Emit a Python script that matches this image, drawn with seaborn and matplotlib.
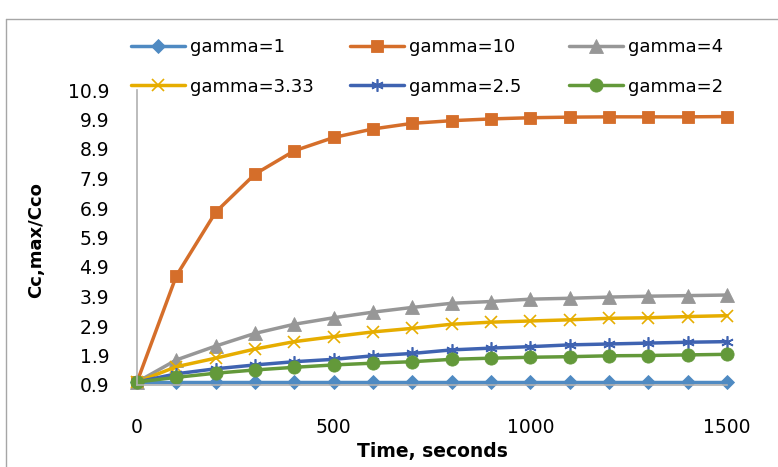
import matplotlib
matplotlib.use("Agg")
import matplotlib.pyplot as plt
import seaborn as sns
import pandas as pd
from matplotlib.lines import Line2D
from matplotlib.patches import Rectangle

time_s = [0, 100, 200, 300, 400, 500, 600, 700, 800, 900, 1000, 1100, 1200, 1300, 1400, 1500]
gamma_1 = [1.0] * 16
gamma_10 = [1.0, 4.60, 6.76, 8.05, 8.84, 9.29, 9.58, 9.77, 9.86, 9.92, 9.96, 9.98, 9.99, 9.99, 9.99, 10.0]
gamma_4 = [1.0, 1.75, 2.22, 2.65, 2.96, 3.18, 3.37, 3.53, 3.67, 3.73, 3.81, 3.84, 3.88, 3.91, 3.93, 3.95]
gamma_333 = [1.0, 1.52, 1.81, 2.12, 2.37, 2.54, 2.70, 2.82, 2.96, 3.03, 3.07, 3.11, 3.16, 3.18, 3.22, 3.25]
gamma_25 = [1.0, 1.28, 1.45, 1.58, 1.69, 1.77, 1.89, 1.97, 2.09, 2.15, 2.20, 2.26, 2.29, 2.32, 2.35, 2.37]
gamma_2 = [1.0, 1.16, 1.30, 1.41, 1.50, 1.58, 1.64, 1.69, 1.77, 1.81, 1.84, 1.86, 1.89, 1.90, 1.92, 1.94]

series_names = ["gamma=1", "gamma=10", "gamma=4", "gamma=3.33", "gamma=2.5", "gamma=2"]
series_values = [gamma_1, gamma_10, gamma_4, gamma_333, gamma_25, gamma_2]
y_ticks = [0.9, 1.9, 2.9, 3.9, 4.9, 5.9, 6.9, 7.9, 8.9, 9.9, 10.9]
x_ticks = [0, 500, 1000, 1500]

colors = {
    "gamma=1": "#4F8AC2",
    "gamma=10": "#D56E2A",
    "gamma=4": "#979797",
    "gamma=3.33": "#E6AD00",
    "gamma=2.5": "#3F63B1",
    "gamma=2": "#63993A",
}
markers = {
    "gamma=1": "D",
    "gamma=10": "s",
    "gamma=4": "^",
    "gamma=3.33": "x",
    "gamma=2.5": (6, 2, 0),
    "gamma=2": "o",
}
msizes = {
    "gamma=1": 7.5,
    "gamma=10": 9,
    "gamma=4": 9.5,
    "gamma=3.33": 9,
    "gamma=2.5": 9,
    "gamma=2": 9.5,
}

rows = []
for name, vals in zip(series_names, series_values):
    for t, v in zip(time_s, vals):
        rows.append({"Time": t, "Value": v, "Series": name})
df = pd.DataFrame(rows)

sns.set_theme(style="white")
plt.rcParams["font.family"] = ["DejaVu Sans"]
plt.rcParams["text.color"] = "#000000"
plt.rcParams["axes.labelcolor"] = "#000000"

fig = plt.figure(figsize=(7.78, 4.67), dpi=100, facecolor="white")
ax = fig.add_axes([137 / 778, 1 - 385 / 467, 590 / 778, 295 / 467])

# white strip at the far right, then the visible outer border (top and left)
fig.add_artist(Rectangle((765 / 778, 0), 20 / 778, 1.0, transform=fig.transFigure,
                         facecolor="white", edgecolor="none", zorder=50))
top_y = 1 - 18.5 / 467
left_x = 5.5 / 778
fig.add_artist(Line2D([left_x, 1.0], [top_y, top_y], transform=fig.transFigure,
                      color="#A6A6A6", linewidth=1.0, zorder=60))
fig.add_artist(Line2D([left_x, left_x], [0.0, top_y], transform=fig.transFigure,
                      color="#A6A6A6", linewidth=1.0, zorder=60))

handles = {}
for name in series_names:
    sub = df[df["Series"] == name]
    sns.lineplot(data=sub, x="Time", y="Value", ax=ax, color=colors[name],
                 linewidth=2.5, marker=markers[name], markersize=msizes[name],
                 markeredgecolor=colors[name],
                 markeredgewidth=1.2 if name in ("gamma=3.33", "gamma=2.5") else 0.6,
                 label=name, legend=False, clip_on=False)
    handles[name] = ax.get_lines()[-1]

ax.set_xlim(0, 1500)
ax.set_ylim(0.9, 10.9)
ax.set_xticks(x_ticks)
ax.set_yticks(y_ticks)
ax.set_yticklabels([f"{v:.1f}" for v in y_ticks])
ax.tick_params(axis="both", length=0, labelsize=13.5, colors="#000000")
ax.tick_params(axis="x", pad=24)
ax.tick_params(axis="y", pad=20)
for s in ["top", "right"]:
    ax.spines[s].set_visible(False)
for s in ["left", "bottom"]:
    ax.spines[s].set_color("#B0B0B0")
    ax.spines[s].set_linewidth(1.2)
ax.grid(False)
ax.set_xlabel("Time, seconds", fontsize=13.5, fontweight="bold", labelpad=3, color="#000000")
ax.set_ylabel("Cc,max/Cco", fontsize=13, fontweight="bold", color="#000000")
ax.yaxis.set_label_coords(-(137 - 45) / 590, (385 - 240) / 295)

# legend: three columns of two entries
cols = [("gamma=1", "gamma=3.33"), ("gamma=10", "gamma=2.5"), ("gamma=4", "gamma=2")]
col_x = [131, 350, 569]
for names, x in zip(cols, col_x):
    leg = fig.legend([handles[n] for n in names], list(names), loc="upper left",
                     bbox_to_anchor=(x / 778, 1 - 38 / 467), frameon=False,
                     fontsize=13, handlelength=3.0, handletextpad=0.28,
                     labelspacing=1.2, borderpad=0, borderaxespad=0)
    for txt in leg.get_texts():
        txt.set_color("#000000")

fig.savefig("out.png", dpi=100, facecolor="white")
